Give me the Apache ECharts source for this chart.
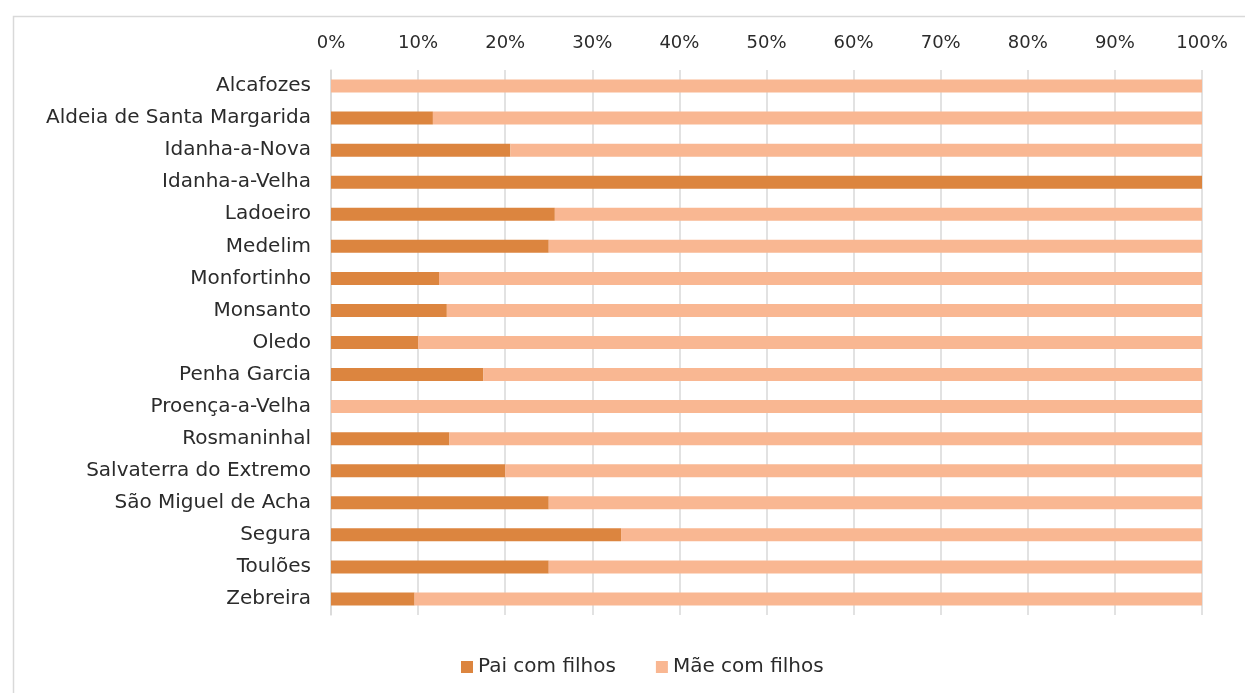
<!DOCTYPE html>
<html>
<head>
<meta charset="utf-8">
<script src="https://cdn.jsdelivr.net/npm/echarts@6/dist/echarts.min.js"></script>
<style>html,body{margin:0;padding:0;background:#fff;}#c{width:1245px;height:693px;}</style>
</head>
<body>
<div id="c"></div>
<script>
const categories = ["Alcafozes","Aldeia de Santa Margarida","Idanha-a-Nova","Idanha-a-Velha","Ladoeiro","Medelim","Monfortinho","Monsanto","Oledo","Penha Garcia","Proença-a-Velha","Rosmaninhal","Salvaterra do Extremo","São Miguel de Acha","Segura","Toulões","Zebreira"];
const paiComFilhos = [0, 11.7, 20.6, 100, 25.7, 25.0, 12.4, 13.3, 10.0, 17.5, 0, 13.6, 20.0, 25.0, 33.3, 25.0, 9.6];
const maeComFilhos = [100, 88.3, 79.4, 0, 74.3, 75.0, 87.6, 86.7, 90.0, 82.5, 100, 86.4, 80.0, 75.0, 66.7, 75.0, 90.4];
const seriesNames = ["Pai com filhos", "Mãe com filhos"];

const FONT = "DejaVu Sans";
const TXT = '#2b2b2b';
const chart = echarts.init(document.getElementById('c'));
chart.setOption({
  animation: false,
  textStyle: {fontFamily: FONT},
  graphic: [{
    type: 'rect', left: 11, top: 14, shape: {width: 1300, height: 760},
    style: {fill: 'none', stroke: '#d9d9d9', lineWidth: 1.5}, silent: true, z: -1
  }],
  grid: {left: 331, right: 43, top: 70, bottom: 78, containLabel: false},
  legend: {
    top: 652, left: 456, itemWidth: 12, itemHeight: 12, itemGap: 40,
    icon: 'rect',
    textStyle: {fontFamily: FONT, fontSize: 20, color: TXT},
    data: seriesNames
  },
  xAxis: {
    type: 'value', position: 'top', min: 0, max: 100, interval: 10,
    axisLine: {show: false}, axisTick: {show: false},
    axisLabel: {formatter: '{value}%', fontFamily: FONT, fontSize: 18, color: TXT, margin: 18},
    splitLine: {show: true, lineStyle: {color: '#d9d9d9', width: 1.5}}
  },
  yAxis: {
    type: 'category', inverse: true, data: categories,
    axisLine: {show: true, lineStyle: {color: '#d9d9d9', width: 1.5}},
    axisTick: {show: false},
    axisLabel: {fontFamily: FONT, fontSize: 20, color: TXT, margin: 20}
  },
  series: [
    {name: seriesNames[0], type: 'bar', stack: 'total', data: paiComFilhos, barWidth: 13,
     itemStyle: {color: '#DC853F'}},
    {name: seriesNames[1], type: 'bar', stack: 'total', data: maeComFilhos, barWidth: 13,
     itemStyle: {color: '#F9B792'}}
  ]
});
</script>
</body>
</html>
